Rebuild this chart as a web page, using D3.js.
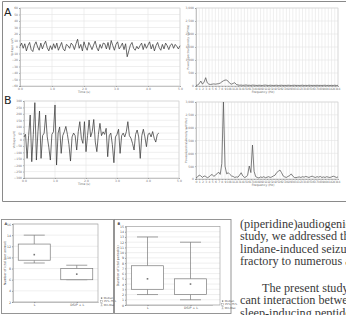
<!DOCTYPE html>
<html>
<head>
<meta charset="utf-8">
<script src="https://cdn.jsdelivr.net/npm/d3@7"></script>
<style>
  body { margin: 0; background: #fff; }
  svg { display: block; }
  .grid line { stroke: #e4e4e4; stroke-width: 0.6; }
  text { font-family: "DejaVu Sans", sans-serif; }
  .body-text { font-family: "Liberation Serif", serif; font-size: 12.2px; fill: #3a3a3a; }
</style>
</head>
<body>
<div id="chart"></div>
<script>
/* CONSTANTS AND GLOBALS */
const width = 346,
  height = 315;

/* DATA */
// EEG traces, one sample every 0.05 s
const sampleStep = 0.05;
const timeTicks = [0, 1, 2, 3, 4, 5];
const voltTicksA = [-60, -50, -40, -30, -20, -10, 0, 10, 20, 30, 40, 50, 60];
const voltTicksB = [-300, -250, -200, -150, -100, -50, 0, 50, 100, 150, 200, 250, 300];

const traceA = [1, 6, -2, 5, -6, 2, 7, -4, -7, 3, 8, 0, -5, 6, -3, 4, 9, -1, -6, 2,
  -4, 5, -2, 6, -5, 1, 7, -3, -6, 4, 2, -2, 6, 3, -4, 5, 12, -2, 4, -6,
  8, 0, -5, 7, 2, -4, 3, 9, -1, -6, 4, -2, 6, 5, -3, 7, -4, 10, 2, -5,
  4, 8, -3, 1, 6, -4, 5, -15, -6, 3, 7, -2, -5, 1, -3, 2, 6, -4, 5, -2,
  3, 8, -3, 4, -6, 2, 7, -1, -5, 4, -3, 6, 2, -4, 3, 5, -2, 4, 1, -3, 2];

const traceB = [20, 40, -147, 30, 191, -173, 40, 287, -160, 60, 222, -147, 30, 50, 191, 20, -60, -160, 40, 60,
  269, -199, 50, 98, -108, 30, 60, 102, 40, -40, -168, 20, 50, 30, -82, 60, 139, 10, -30, 139,
  -95, 30, 152, 20, 60, 156, -20, -95, 40, 126, 30, 60, 40, 87, -134, 30, 50, -40, -181, 20,
  40, 80, -108, 30, 50, 20, 60, 139, 30, 10, -30, -82, 40, 74, 20, -147, 30, 80, 20, -56,
  40, 50, 20, 62, 10, -20, 40, 50];

// power spectra, one value every 0.5 Hz from 0 to 44 Hz
const freqStep = 0.5;
const freqTicks = [0, 1, 2, 3, 4, 5, 6, 7, 8, 9, 10, 11, 12, 13, 14, 15, 16, 17, 18, 19, 20, 21, 22,
  23, 24, 25, 26, 27, 28, 29, 30, 31, 32, 33, 34, 35, 36, 37, 38, 39, 40, 41, 42, 43, 44];
const powerTicks = [0, 500, 1000, 1500, 2000, 2500, 3000];

const spectrumA = [20, 40, 90, 190, 70, 150, 320, 120, 70, 60, 70, 80, 70, 80, 90, 110, 160, 200,
  230, 225, 180, 100, 70, 100, 127, 60, 40, 30, 35, 25, 30, 40, 25, 30, 20, 35, 30, 25,
  20, 30, 25, 20, 30, 35, 25, 20, 30, 25, 20, 25, 30, 20, 25, 30, 20, 25, 20, 30, 25,
  20, 25, 30, 20, 25, 20, 25, 30, 20, 25, 20, 30, 25, 20, 25, 20, 30, 20, 25, 20, 25,
  30, 20, 25, 20, 25, 20, 30, 20, 25];

const spectrumB = [40, 80, 155, 120, 60, 117, 100, 50, 80, 140, 180, 100, 150, 200, 270, 180, 600, 3000,
  500, 200, 245, 180, 120, 100, 60, 80, 70, 150, 245, 120, 60, 80, 150, 506, 250, 1325,
  300, 90, 60, 40, 80, 60, 90, 50, 70, 90, 60, 80, 120, 150, 250, 300, 350, 250, 120, 80,
  60, 100, 130, 200, 110, 60, 50, 70, 80, 60, 90, 70, 100, 80, 60, 90, 110, 80, 60, 90,
  70, 100, 60, 80, 60, 90, 70, 60, 80, 110, 90, 60, 80];

// box plots
const groups = ["L", "DSIP + L"];
const countMin = [9, 6],
  countQ1 = [9.5, 6],
  countMedian = [10.5, 7],
  countQ3 = [12.4, 8],
  countMax = [14, 8.6];
const countTicks = [2, 4, 6, 8, 10, 12, 14, 16];

const durMin = [2, 1],
  durQ1 = [3, 2],
  durMedian = [5, 4],
  durQ3 = [7.5, 5],
  durMax = [13, 12];
const durTicks = [0, 1, 2, 3, 4, 5, 6, 7, 8, 9, 10, 11, 12, 13, 14, 15];

const legendLabels = ["Median", "25%-75%", "Min-Max"];

// article text next to the figure
const paragraph1 = ["(piperidine)audiogenic", "study, we addressed the", "lindane-induced seizures", "fractory to numerous anti-"];
const paragraph2 = ["The present study demonstrated", "cant interaction between", "sleep-inducing peptide"];

/* SVG */
const svg = d3
  .select("#chart")
  .append("svg")
  .attr("width", width)
  .attr("height", height);

// figure frame (runs off the right side of the page)
svg.append("path")
  .attr("d", "M346,1.5 H2.5 V201.5 H346")
  .attr("fill", "none")
  .attr("stroke", "#8a8a8a")
  .attr("stroke-width", 1);

function styleAxis(g) {
  g.attr("font-size", 3).attr("color", "#777");
  g.select(".domain").attr("stroke", "#aaa").attr("stroke-width", 0.6);
  g.selectAll(".tick line").attr("stroke-width", 0.5);
}

// line chart with Excel-like grid
function drawLineChart(o) {
  const x = d3.scaleLinear().domain([o.xTicks[0], o.xTicks[o.xTicks.length - 1]]).range([o.x0, o.x1]);
  const y = d3.scaleLinear().domain([o.yTicks[0], o.yTicks[o.yTicks.length - 1]]).range([o.y1, o.y0]);

  const grid = svg.append("g").attr("class", "grid");
  grid.selectAll("line.h")
    .data(o.yTicks)
    .join("line")
    .attr("class", "h")
    .attr("x1", o.x0).attr("x2", o.x1)
    .attr("y1", d => y(d)).attr("y2", d => y(d));
  grid.selectAll("line.v")
    .data(o.xTicks)
    .join("line")
    .attr("class", "v")
    .attr("x1", d => x(d)).attr("x2", d => x(d))
    .attr("y1", o.y0).attr("y2", o.y1);

  svg.append("rect")
    .attr("x", o.x0).attr("y", o.y0)
    .attr("width", o.x1 - o.x0).attr("height", o.y1 - o.y0)
    .attr("fill", "none").attr("stroke", "#d0d0d0").attr("stroke-width", 0.6);

  svg.append("g")
    .attr("transform", `translate(${o.x0},0)`)
    .call(d3.axisLeft(y).tickValues(o.yTicks).tickSize(1).tickPadding(1))
    .call(styleAxis);

  svg.append("g")
    .attr("transform", `translate(0,${o.y1})`)
    .call(d3.axisBottom(x).tickValues(o.xTicks).tickSize(1).tickPadding(0.8))
    .call(styleAxis);

  svg.append("text")
    .attr("x", o.xTitleX).attr("y", o.y1 + 6.5)
    .attr("text-anchor", "middle")
    .attr("font-size", 3).attr("fill", "#666")
    .text(o.xTitle);

  svg.append("text")
    .attr("transform", `translate(${o.yTitleX},${(o.y0 + o.y1) / 2}) rotate(-90)`)
    .attr("text-anchor", "middle")
    .attr("font-size", 2.8).attr("fill", "#666")
    .text(o.yTitle);

  const lineFunc = d3.line()
    .x((d, i) => x(i * o.step))
    .y(d => y(d));

  svg.append("path")
    .datum(o.values)
    .attr("d", lineFunc)
    .attr("fill", "none")
    .attr("stroke", o.color)
    .attr("stroke-width", 0.75)
    .attr("stroke-linejoin", "round");
}

/* TOP FIGURE */
svg.append("text").attr("x", 4).attr("y", 16).attr("font-size", 11).attr("fill", "#222").text("A");
svg.append("text").attr("x", 4).attr("y", 104).attr("font-size", 11).attr("fill", "#222").text("B");

drawLineChart({
  x0: 20, x1: 180, y0: 8, y1: 86,
  xTicks: timeTicks, yTicks: voltTicksA, values: traceA, step: sampleStep,
  xTitle: "Time (s)", xTitleX: 84, yTitle: "Voltage (µV)", yTitleX: 12.5, color: "#3a3a3a"
});
drawLineChart({
  x0: 196, x1: 338, y0: 8, y1: 86,
  xTicks: freqTicks, yTicks: powerTicks, values: spectrumA, step: freqStep,
  xTitle: "Frequency (Hz)", xTitleX: 263, yTitle: "Power Spectral Density (µV²/Hz)", yTitleX: 188.5, color: "#555"
});
drawLineChart({
  x0: 24, x1: 179, y0: 101, y1: 178,
  xTicks: timeTicks, yTicks: voltTicksB, values: traceB, step: sampleStep,
  xTitle: "Time (s)", xTitleX: 84, yTitle: "Voltage (µV)", yTitleX: 15, color: "#3a3a3a"
});
drawLineChart({
  x0: 196, x1: 338, y0: 102, y1: 179,
  xTicks: freqTicks, yTicks: powerTicks, values: spectrumB, step: freqStep,
  xTitle: "Frequency (Hz)", xTitleX: 263, yTitle: "Power Spectral Density (µV²/Hz)", yTitleX: 187, color: "#555"
});

/* BOX PLOTS */
function drawBoxPlot(o) {
  svg.append("rect")
    .attr("x", o.fx0).attr("y", o.fy0)
    .attr("width", o.fx1 - o.fx0).attr("height", o.fy1 - o.fy0)
    .attr("fill", "none").attr("stroke", "#8a8a8a").attr("stroke-width", 0.9);

  const x = d3.scalePoint().domain(groups).range([o.x0, o.xEnd]).padding(0.5);
  const y = d3.scaleLinear().domain([o.ticks[0], o.ticks[o.ticks.length - 1]]).range([o.y1, o.y0]);

  svg.append("g").attr("class", "grid")
    .selectAll("line")
    .data(o.ticks)
    .join("line")
    .attr("x1", o.x0).attr("x2", o.x1)
    .attr("y1", d => y(d)).attr("y2", d => y(d))
    .attr("stroke", "#efefef");

  svg.append("rect")
    .attr("x", o.x0).attr("y", o.y0)
    .attr("width", o.x1 - o.x0).attr("height", o.y1 - o.y0)
    .attr("fill", "none").attr("stroke", "#999").attr("stroke-width", 0.6);

  svg.append("g")
    .attr("transform", `translate(${o.x0},0)`)
    .call(d3.axisLeft(y).tickValues(o.ticks).tickSize(1).tickPadding(1))
    .call(styleAxis)
    .call(g => g.attr("font-size", 3.2).attr("color", "#555"));

  svg.append("g")
    .attr("transform", `translate(0,${o.y1})`)
    .call(d3.axisBottom(x).tickSize(1).tickPadding(1))
    .call(styleAxis)
    .call(g => g.attr("font-size", 3.2).attr("color", "#555"));

  svg.append("text")
    .attr("x", o.fx0 + 3).attr("y", o.fy0 + 5)
    .attr("font-size", 3.5).attr("font-weight", "bold").attr("fill", "#333")
    .text(o.label);

  svg.append("text")
    .attr("transform", `translate(${o.yTitleX},${(o.y0 + o.y1) / 2}) rotate(-90)`)
    .attr("text-anchor", "middle")
    .attr("font-size", 3.1).attr("fill", "#444")
    .text(o.yTitle);

  const boxW = 32, capW = 21;
  const g = svg.append("g").attr("stroke", "#7a7a7a").attr("stroke-width", 0.7).attr("fill", "none");
  groups.forEach((grp, i) => {
    const cx = x(grp);
    g.append("line").attr("x1", cx).attr("x2", cx).attr("y1", y(o.max[i])).attr("y2", y(o.q3[i]));
    g.append("line").attr("x1", cx).attr("x2", cx).attr("y1", y(o.q1[i])).attr("y2", y(o.min[i]));
    g.append("line").attr("x1", cx - capW / 2).attr("x2", cx + capW / 2).attr("y1", y(o.max[i])).attr("y2", y(o.max[i]));
    g.append("line").attr("x1", cx - capW / 2).attr("x2", cx + capW / 2).attr("y1", y(o.min[i])).attr("y2", y(o.min[i]));
    g.append("rect")
      .attr("x", cx - boxW / 2).attr("y", y(o.q3[i]))
      .attr("width", boxW).attr("height", y(o.q1[i]) - y(o.q3[i]))
      .attr("fill", "#fff");
    svg.append("rect")
      .attr("x", cx - 0.8).attr("y", y(o.median[i]) - 0.8)
      .attr("width", 1.6).attr("height", 1.6)
      .attr("fill", "#777");
  });

  // legend
  const lg = svg.append("g").attr("transform", `translate(${o.legX},${o.legY})`);
  legendLabels.forEach((lab, i) => {
    const ly = i * 3.4;
    if (i === 0) {
      lg.append("rect").attr("x", 0.4).attr("y", ly - 1.6).attr("width", 1.4).attr("height", 1.4).attr("fill", "#777");
    } else if (i === 1) {
      lg.append("rect").attr("x", 0).attr("y", ly - 2.1).attr("width", 2.2).attr("height", 2.2)
        .attr("fill", "none").attr("stroke", "#888").attr("stroke-width", 0.4);
    } else {
      lg.append("path").attr("d", `M0,${ly - 2.2}H2.2M1.1,${ly - 2.2}V${ly}M0,${ly}H2.2`)
        .attr("fill", "none").attr("stroke", "#888").attr("stroke-width", 0.4);
    }
    lg.append("text").attr("x", 3.2).attr("y", ly).attr("font-size", 2.6).attr("fill", "#555").text(lab);
  });
}

drawBoxPlot({
  label: "A",
  fx0: 1.5, fx1: 113.5, fy0: 219.5, fy1: 313.5,
  x0: 13, x1: 98, xEnd: 98, y0: 224, y1: 302,
  ticks: countTicks, yTitle: "Number of ictal (per animal)", yTitleX: 6,
  min: countMin, q1: countQ1, median: countMedian, q3: countQ3, max: countMax,
  legX: 100.5, legY: 299
});
drawBoxPlot({
  label: "B",
  fx0: 114.5, fx1: 231, fy0: 219.5, fy1: 313.5,
  x0: 126, x1: 220, xEnd: 212, y0: 226.5, y1: 305,
  ticks: durTicks, yTitle: "Duration of ictal period (s)", yTitleX: 118.5,
  min: durMin, q1: durQ1, median: durMedian, q3: durQ3, max: durMax,
  legX: 221.5, legY: 302
});

/* ARTICLE TEXT */
svg.selectAll("text.p1")
  .data(paragraph1)
  .join("text")
  .attr("class", "body-text p1")
  .attr("x", 240)
  .attr("y", (d, i) => 227.5 + i * 12.5)
  .text(d => d);

svg.selectAll("text.p2")
  .data(paragraph2)
  .join("text")
  .attr("class", "body-text p2")
  .attr("x", (d, i) => (i === 0 ? 262 : 240))
  .attr("y", (d, i) => 291.5 + i * 12.5)
  .text(d => d);
</script>
</body>
</html>
